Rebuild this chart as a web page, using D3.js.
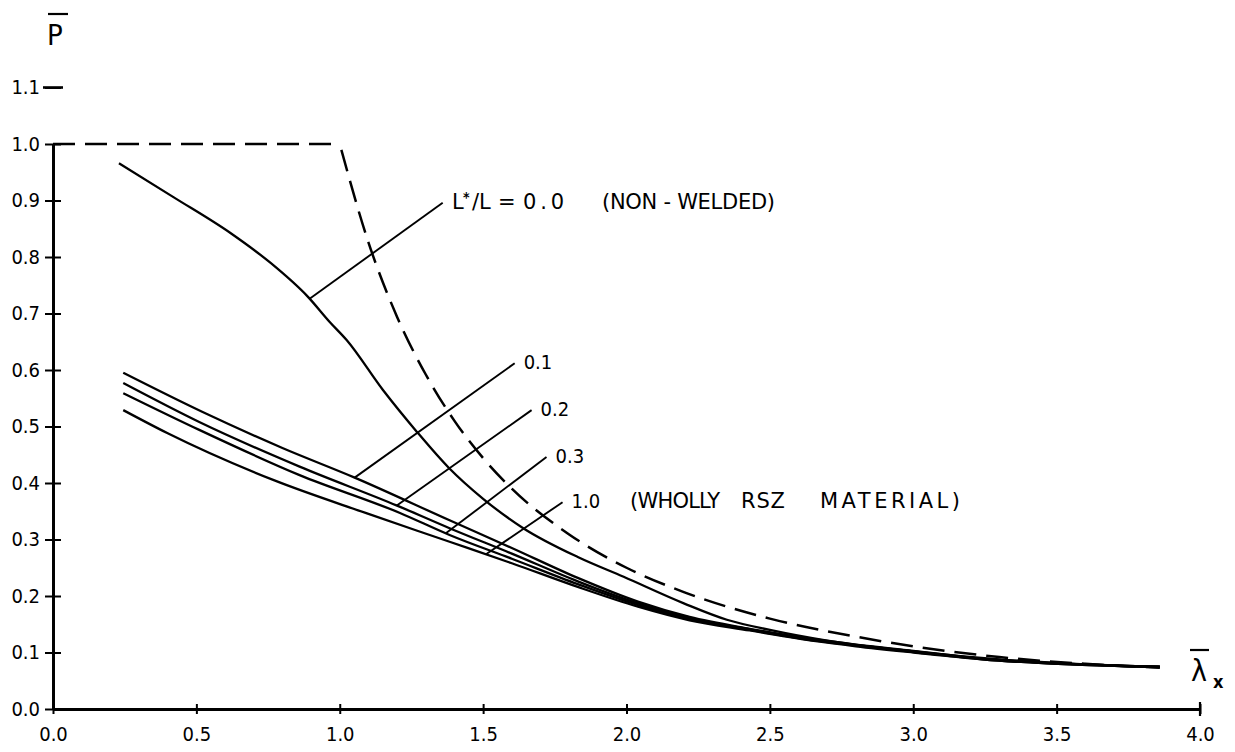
<!DOCTYPE html>
<html><head><meta charset="utf-8">
<script src="https://cdn.jsdelivr.net/npm/d3@7"></script>
<style>
body{margin:0;background:#fff;}
text{font-family:"DejaVu Sans Condensed","DejaVu Sans",sans-serif;fill:#000;}
text.ann{font-family:"DejaVu Sans",sans-serif;}
</style></head>
<body><svg id="c" width="1235" height="752"></svg>
<script>
// ---- data ----
const xTicks = [0, 0.5, 1.0, 1.5, 2.0, 2.5, 3.0, 3.5, 4.0];
const xTickLabels = ["0.0","0.5","1.0","1.5","2.0","2.5","3.0","3.5","4.0"];
const yTicks = [0,0.1,0.2,0.3,0.4,0.5,0.6,0.7,0.8,0.9,1.0,1.1];
const yTickLabels = ["0.0","0.1","0.2","0.3","0.4","0.5","0.6","0.7","0.8","0.9","1.0","1.1"];

// dashed reference curve: plateau then decay
const dashedPlateau = [[0,1.0],[1.0,1.0]];
const dashedDecay = [[1.0,1.0],[1.1,0.826],[1.2,0.694],[1.3,0.592],[1.4,0.51],[1.5,0.444],[1.6,0.39],[1.8,0.309],[2.0,0.25],[2.2,0.207],[2.5,0.16],[2.8,0.128],[3.0,0.111],[3.3,0.092],[3.6,0.08],[3.86,0.073]];
// L*/L = 0.0 (non-welded)
const ratio00 = [[0.23,0.966],[0.42,0.906],[0.62,0.842],[0.76,0.789],[0.89,0.729],[0.965,0.685],[1.024,0.653],[1.15,0.565],[1.27,0.49],[1.38,0.427],[1.5,0.372],[1.64,0.32],[1.83,0.269],[1.99,0.234],[2.2,0.187],[2.35,0.158],[2.5,0.14],[2.7,0.121],[3.0,0.102],[3.3,0.088],[3.6,0.079],[3.86,0.075]];
// L*/L = 0.1
const ratio01 = [[0.245,0.595],[0.52,0.526],[0.8,0.462],[1.05,0.41],[1.383,0.334],[1.6,0.285],[1.83,0.232],[2.04,0.19],[2.22,0.163],[2.43,0.142],[2.66,0.123],[2.8,0.114],[3.0,0.103],[3.24,0.089],[3.59,0.079],[3.86,0.075]];
// L*/L = 0.2
const ratio02 = [[0.245,0.577],[0.51,0.508],[0.86,0.429],[1.2,0.36],[1.383,0.32],[1.6,0.275],[1.83,0.226],[2.04,0.187],[2.22,0.161],[2.43,0.141],[2.66,0.122],[2.8,0.113],[3.0,0.102],[3.24,0.089],[3.59,0.079],[3.86,0.075]];
// L*/L = 0.3
const ratio03 = [[0.245,0.559],[0.51,0.494],[0.86,0.414],[1.21,0.347],[1.383,0.308],[1.6,0.266],[1.83,0.221],[2.04,0.184],[2.22,0.159],[2.43,0.14],[2.66,0.121],[2.8,0.112],[3.0,0.101],[3.24,0.088],[3.59,0.078],[3.86,0.074]];
// L*/L = 1.0 (wholly RSZ material)
const ratio10 = [[0.245,0.529],[0.4,0.488],[0.77,0.405],[1.09,0.347],[1.383,0.296],[1.6,0.258],[1.83,0.216],[2.04,0.181],[2.22,0.157],[2.43,0.139],[2.66,0.12],[2.8,0.111],[3.0,0.1],[3.24,0.088],[3.59,0.078],[3.86,0.074]];

// curve labels
const labelNames = ["0.0", "0.1", "0.2", "0.3", "1.0"];
const labelAttach = [0.895, 1.052, 1.199, 1.37, 1.51];
const labelEndX = [1.359, 1.61, 1.669, 1.721, 1.777];
const labelEndY = [0.896, 0.612, 0.529, 0.446, 0.366];

// ---- drawing ----
const svg = d3.select("#c");
const x = d3.scaleLinear().domain([0,4]).range([53,1200]);
const y = d3.scaleLinear().domain([0,1]).range([709,144]);

const line = d3.line().x(d=>x(d[0])).y(d=>y(d[1])).curve(d3.curveMonotoneX);
const lineLin = d3.line().x(d=>x(d[0])).y(d=>y(d[1]));

// axes
const fs = 20;
const gx = svg.append("g").attr("transform",`translate(0,${y(0)})`)
  .call(d3.axisBottom(x).tickValues(xTicks).tickFormat((d,i)=>xTickLabels[i]).tickSizeInner(5).tickSizeOuter(0).tickPadding(13));
const gx2 = svg.append("g").attr("transform",`translate(0,${y(0)})`)
  .call(d3.axisTop(x).tickValues(xTicks).tickFormat("").tickSizeInner(5).tickSizeOuter(0));
const gy = svg.append("g").attr("transform",`translate(${x(0)},0)`)
  .call(d3.axisLeft(y).tickValues(yTicks).tickFormat((d,i)=>yTickLabels[i]).tickSizeInner(8).tickSizeOuter(0).tickPadding(5));
const gy2 = svg.append("g").attr("transform",`translate(${x(0)},0)`)
  .call(d3.axisRight(y).tickValues(yTicks).tickFormat("").tickSizeInner(8).tickSizeOuter(0));
[gx,gx2,gy,gy2].forEach(g=>{
  g.selectAll(".domain").attr("stroke","#000").attr("stroke-width",2.8);
  g.selectAll(".tick line").attr("stroke","#000").attr("stroke-width",2);
  g.selectAll(".tick text").attr("font-size",fs).attr("font-family","'DejaVu Sans Condensed','DejaVu Sans',sans-serif").attr("fill","#000");
});
svg.append("line").attr("x1",x(0)-10).attr("x2",x(0)+10).attr("y1",y(1.1)).attr("y2",y(1.1)).attr("stroke","#000").attr("stroke-width",2.6);
svg.append("line").attr("x1",x(4)).attr("x2",x(4)).attr("y1",y(0)-7).attr("y2",y(0)+7).attr("stroke","#000").attr("stroke-width",2.2);

// dashed curve
svg.append("path").datum(dashedPlateau).attr("d",lineLin)
  .attr("fill","none").attr("stroke","#000").attr("stroke-width",2.5).attr("stroke-dasharray","22,10");
svg.append("path").datum(dashedDecay).attr("d",line)
  .attr("fill","none").attr("stroke","#000").attr("stroke-width",2.5).attr("stroke-dasharray","22,10").attr("stroke-dashoffset",-6);

// solid curves
const series = [ratio00, ratio01, ratio02, ratio03, ratio10];
series.forEach(s=>{
  svg.append("path").datum(s).attr("d",line).attr("fill","none").attr("stroke","#000").attr("stroke-width",2.3).attr("stroke-linejoin","round");
});

// leaders and labels
function interp(s, lx){
  for(let i=0;i<s.length-1;i++){
    if(lx>=s[i][0] && lx<=s[i+1][0]){
      const t=(lx-s[i][0])/(s[i+1][0]-s[i][0]);
      return s[i][1]+t*(s[i+1][1]-s[i][1]);
    }
  }
  return s[s.length-1][1];
}
function txt(xp, yp, str, len, cls, size){
  const t = svg.append("text").attr("x",xp).attr("y",yp).attr("font-size",size||fs).text(str);
  if(cls) t.attr("class",cls);
  if(len) t.attr("textLength",len).attr("lengthAdjust","spacing");
  return t;
}
labelNames.forEach((name,i)=>{
  const s = series[i];
  const ax = labelAttach[i], ay = interp(s, ax);
  svg.append("line").attr("x1",x(ax)).attr("y1",y(ay)).attr("x2",x(labelEndX[i])).attr("y2",y(labelEndY[i]))
    .attr("stroke","#000").attr("stroke-width",1.9);
  const ty = y(labelEndY[i]) + 6;
  const tx = x(labelEndX[i]) + 7;
  if(i===0){
    txt(452, ty, "L", null, "ann", 21);
    svg.append("text").attr("x",463).attr("y",ty-7).attr("font-size",14).attr("font-weight","bold").text("*");
    txt(472, ty, "/L", null, "ann", 21);
    txt(498, ty, "=", null, "ann", 21);
    txt(523, ty, name, 41, "ann", 21);
    txt(602, ty, "(NON - WELDED)", 173, "ann", 21);
  } else {
    txt(tx+2, ty, name);
    if(i===4){
      txt(630, ty, "(WHOLLY", 90, "ann", 21);
      txt(741, ty, "RSZ", 44, "ann", 21);
      txt(820, ty, "MATERIAL)", 140, "ann", 21);
    }
  }
});

// axis titles
svg.append("text").attr("x",47).attr("y",45).attr("font-size",29).text("P");
svg.append("line").attr("x1",48).attr("x2",68).attr("y1",14).attr("y2",14).attr("stroke","#000").attr("stroke-width",2.2);
svg.append("text").attr("x",1191).attr("y",681).attr("font-size",30).text("λ");
svg.append("line").attr("x1",1190).attr("x2",1209).attr("y1",650).attr("y2",650).attr("stroke","#000").attr("stroke-width",2.2);
svg.append("text").attr("x",1213).attr("y",688).attr("font-size",18).attr("font-weight","bold").text("x");
</script></body></html>
